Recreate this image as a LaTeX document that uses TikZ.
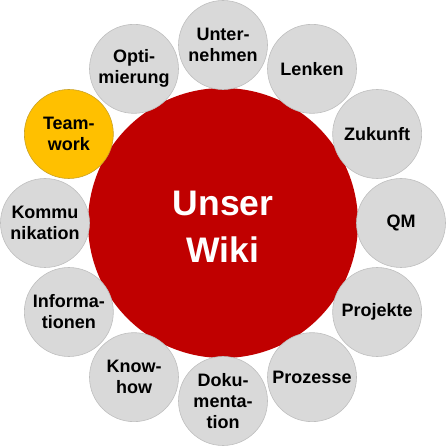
\documentclass[tikz,border=0pt]{standalone}
\usepackage{fontspec}
\setmainfont{Liberation Sans}
\usetikzlibrary{calc}
\definecolor{wiki}{HTML}{C00000}
\definecolor{topic}{HTML}{D9D9D9}
\definecolor{topicline}{HTML}{BFBFBF}
\definecolor{team}{HTML}{FFC000}
\definecolor{teamline}{HTML}{C9A227}

\begin{document}
\begin{tikzpicture}[x=1pt,y=1pt,
  topicbox/.style={circle,fill=topic,draw=topicline,line width=0.6pt,minimum size=89pt,inner sep=0pt,align=center,font=\bfseries\fontsize{18}{21}\selectfont},
  teambox/.style={topicbox,fill=team,draw=teamline}]
  \useasboundingbox (0,0) rectangle (446,446);

  % Centre
  \node[circle,fill=wiki,minimum size=270pt,inner sep=0pt] (wiki) at (223,223) {};
  \node[align=center,text=white,font=\bfseries\fontsize{35.5}{47}\selectfont,yshift=-4pt] (wikitext) at (wiki.center) {Unser\\Wiki};

  % Topics round the centre
  \foreach \ang/\name/\txt in {90/unternehmen/Unter-\\nehmen, 60/lenken/Lenken, 30/zukunft/Zukunft, 0/qm/QM, -30/projekte/Projekte, -60/prozesse/Prozesse, -90/doku/Doku-\\menta-\\tion, -120/knowhow/Know-\\how, -150/info/Informa-\\tionen, 180/kommu/Kommu\\nikation, 120/opti/Opti-\\mierung}
    \node[topicbox] (\name) at ($(wiki)+(\ang:178)$) {\txt};

  % Teamwork
  \node[teambox] (team) at ($(wiki)+(150:178)$) {Team-\\work};
\end{tikzpicture}
\end{document}
